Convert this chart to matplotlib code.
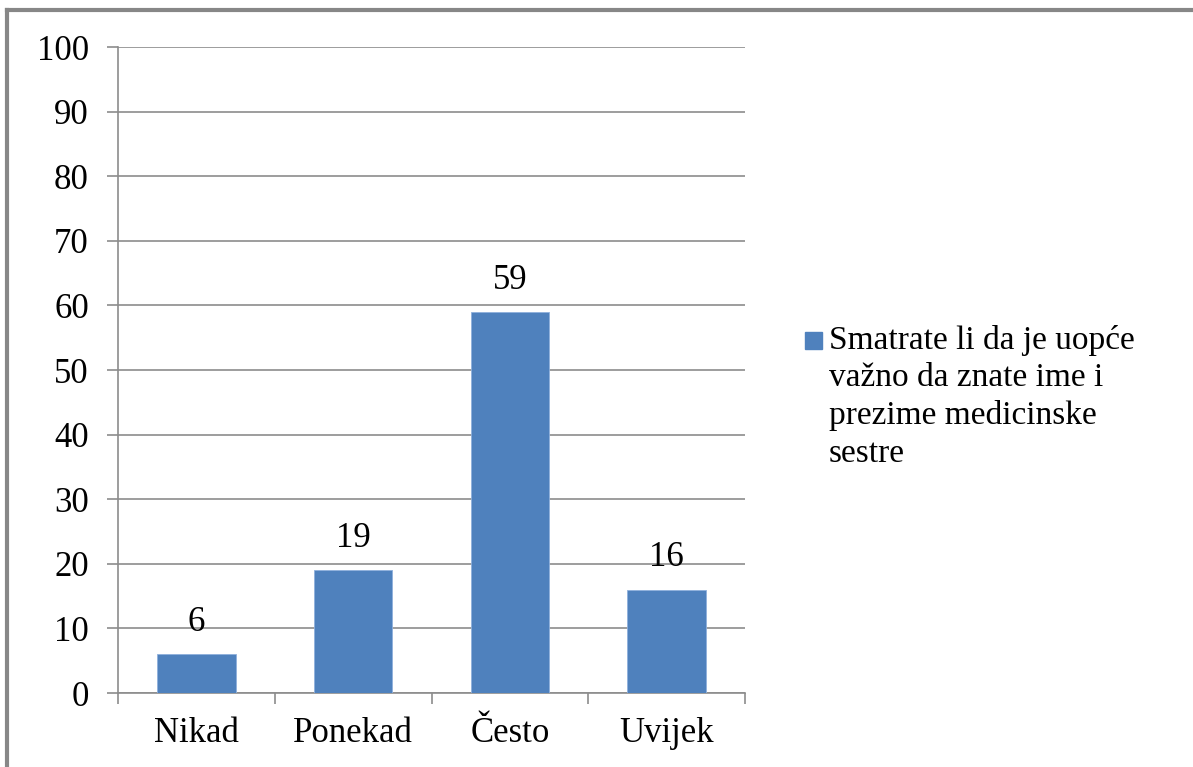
import numpy as np
import matplotlib
matplotlib.use("Agg")
import matplotlib.pyplot as plt
from matplotlib.lines import Line2D
from matplotlib.patches import Rectangle

# data
categories = ["Nikad", "Ponekad", "Često", "Uvijek"]
values = [6, 19, 59, 16]
series_name = "Smatrate li da je uopće\nvažno da znate ime i\nprezime medicinske\nsestre"
yticks = [0, 10, 20, 30, 40, 50, 60, 70, 80, 90, 100]

plt.rcParams['font.family'] = ['Liberation Serif', 'DejaVu Serif']

W, H = 1193, 767
fig = plt.figure(figsize=(W / 100, H / 100), dpi=100)
# plot area in pixels: x 118..745, y 47..693
ax = fig.add_axes([118 / W, 1 - 693 / H, (745 - 118) / W, (693 - 47) / H])

grid_col = "#8c8c8c"
x = np.arange(len(categories))
ax.bar(x, values, width=0.5, color="#4f81bd", edgecolor="#8fb0dc", linewidth=0.6, zorder=3)

for xi, v in zip(x, values):
    ax.annotate(str(v), (xi, v), xytext=(0, 11), textcoords="offset points",
                ha="center", va="bottom", fontsize=25)

ax.set_xlim(-0.5, len(categories) - 0.5)
ax.set_ylim(0, 100)
ax.set_yticks(yticks)
ax.yaxis.grid(True, color=grid_col, linewidth=1.2, zorder=0)
ax.set_axisbelow(True)
ax.tick_params(axis="y", direction="out", length=8, width=1.2, color=grid_col,
               labelsize=25, pad=13)

ax.set_xticks(x)
ax.set_xticklabels(categories)
ax.set_xticks(np.arange(len(categories) + 1) - 0.5, minor=True)
ax.tick_params(axis="x", which="major", length=0, labelsize=25, pad=17)
ax.tick_params(axis="x", which="minor", direction="out", length=8, width=1.2, color=grid_col)

for s in ["top", "right"]:
    ax.spines[s].set_visible(False)
for s in ["left", "bottom"]:
    ax.spines[s].set_color(grid_col)
    ax.spines[s].set_linewidth(1.2)

# legend drawn by hand so the key sits next to the first line
fig.patches.append(Rectangle((805 / W, 1 - 349 / H), 17 / W, 17 / H,
                             transform=fig.transFigure, color="#4f81bd"))
fig.text(829 / W, 1 - 325 / H, series_name, fontsize=24, va="top", ha="left",
         linespacing=1.29)

# frame around the chart (only top and left show in the picture)
fig.lines.append(Line2D([7 / W, 7 / W], [0, 1 - 10 / H], transform=fig.transFigure,
                        color="#878787", linewidth=3))
fig.lines.append(Line2D([7 / W, 1], [1 - 10 / H, 1 - 10 / H], transform=fig.transFigure,
                        color="#878787", linewidth=3))

fig.savefig("out.png", dpi=100)
